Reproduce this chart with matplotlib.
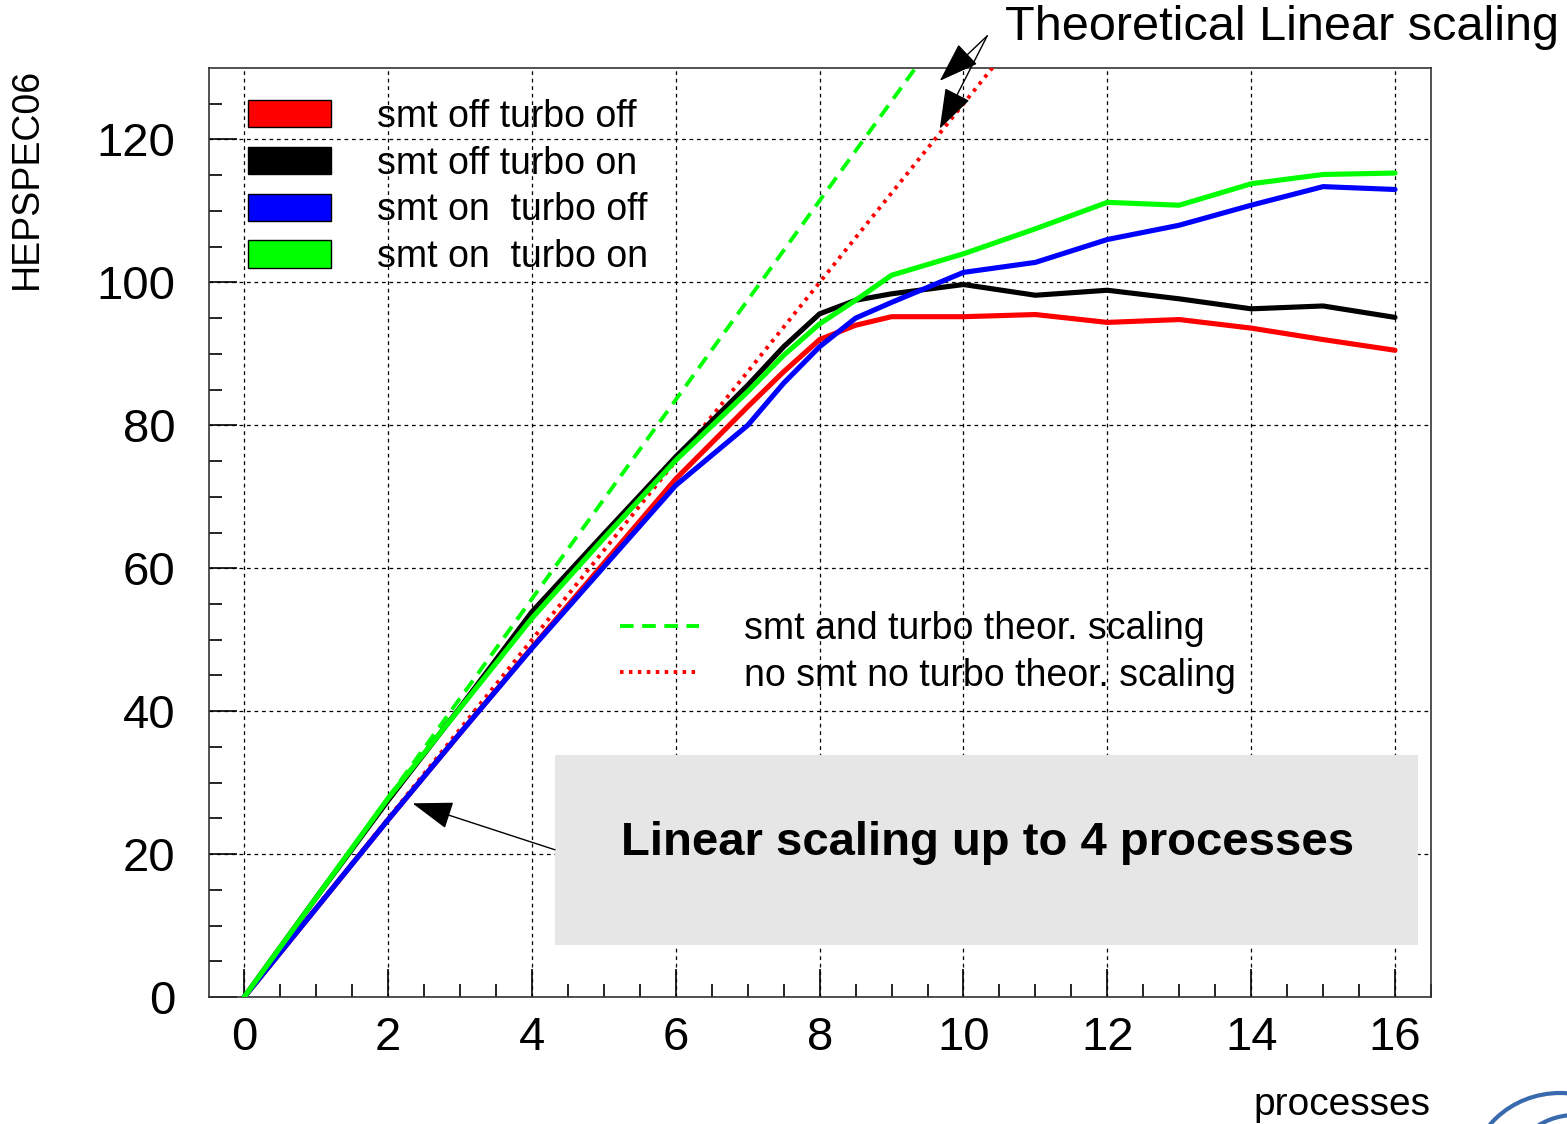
import matplotlib
matplotlib.use("Agg")
import matplotlib.pyplot as plt
import numpy as np
from matplotlib.patches import Patch, Rectangle, Arc
from matplotlib.lines import Line2D

plt.rcParams['font.family'] = ['Liberation Sans', 'DejaVu Sans']

# number of processes and measured HEPSPEC06 values
procs = [0, 1, 2, 3, 4, 5, 6, 7, 7.5, 8, 8.5, 9, 10, 11, 12, 13, 14, 15, 16]
smt_off_turbo_off = [0, 12.4, 24.8, 36.9, 48.9, 60.7, 72.5, 82.6, 87.5, 92.0, 94.0, 95.2, 95.2, 95.5, 94.4, 94.8, 93.6, 92.0, 90.5]
smt_off_turbo_on = [0, 13.9, 27.5, 40.5, 53.9, 64.8, 75.6, 85.6, 91.0, 95.6, 97.5, 98.4, 99.7, 98.2, 98.9, 97.7, 96.3, 96.7, 95.1]
smt_on_turbo_off = [0, 12.4, 24.8, 36.9, 48.8, 60.2, 71.6, 80.0, 85.9, 91.0, 95.0, 97.2, 101.4, 102.8, 106.0, 108.0, 110.8, 113.4, 113.0]
smt_on_turbo_on = [0, 13.9, 27.8, 40.4, 53.0, 64.2, 75.1, 84.7, 89.8, 94.2, 97.5, 101.0, 104.0, 107.5, 111.2, 110.8, 113.8, 115.1, 115.3]

# theoretical linear scaling (single process value x n)
theo_x = [0, 10.5]
theo_smt_turbo = [0, 10.5 * 13.93]
theo_no_smt_no_turbo = [0, 10.5 * 12.5]

series = [
    (smt_off_turbo_off, '#ff0000', 'smt off turbo off'),
    (smt_off_turbo_on, '#000000', 'smt off turbo on'),
    (smt_on_turbo_off, '#0000ff', 'smt on  turbo off'),
    (smt_on_turbo_on, '#00ff00', 'smt on  turbo on'),
]

fig = plt.figure(figsize=(15.67, 11.24), dpi=100)
ax = fig.add_axes([209 / 1567, 1 - 997 / 1124, 1222 / 1567, 929 / 1124])

for vals, col, lab in series:
    ax.plot(procs, vals, color=col, lw=3.7, solid_capstyle='round',
            solid_joinstyle='round', zorder=4)

ax.plot(theo_x, theo_smt_turbo, color='#00ff00', lw=2.8, dashes=(3.5, 2.2), zorder=3)
ax.plot(theo_x, theo_no_smt_no_turbo, color='#ff0000', lw=2.8, dashes=(0.9, 1.4), zorder=3)

ax.set_xlim(-0.49, 16.5)
ax.set_ylim(0, 130)
ax.set_xticks(np.arange(0, 17, 2))
ax.set_xticks(np.arange(0, 16.6, 0.5), minor=True)
ax.set_yticks(np.arange(0, 121, 20))
ax.set_yticks(np.arange(0, 130, 5), minor=True)
ax.tick_params(which='major', direction='in', length=20, width=1.2, labelsize=34,
               top=False, right=False)
ax.tick_params(which='minor', direction='in', length=9.5, width=1.2, top=False, right=False)
ax.tick_params(axis='y', which='major', pad=24)
ax.tick_params(axis='x', which='major', pad=14)
ax.grid(True, which='major', color='black', ls=(0, (3, 3)), lw=0.9, zorder=0)
for sp in ax.spines.values():
    sp.set_linewidth(1.2)
    sp.set_color('#333333')

# legends
h1 = [Patch(facecolor=c, edgecolor='black', lw=1) for _, c, _ in series]
leg1 = ax.legend(h1, [l for _, _, l in series], loc='upper left',
                 bbox_to_anchor=(0.032, 0.967), frameon=False, fontsize=27,
                 handlelength=2.2, handleheight=0.75, handletextpad=1.25,
                 labelspacing=0.29, borderpad=0, borderaxespad=0)
ax.add_artist(leg1)
h2 = [Line2D([], [], color='#00ff00', lw=2.8, dashes=(3.5, 2.2)),
      Line2D([], [], color='#ff0000', lw=2.8, dashes=(0.9, 1.4))]
ax.legend(h2, ['smt and turbo theor. scaling', 'no smt no turbo theor. scaling'],
          loc='upper left', bbox_to_anchor=(0.336, 0.415), frameon=False, fontsize=27,
          handlelength=2.13, handletextpad=1.2, labelspacing=0.27,
          borderpad=0, borderaxespad=0)

# grey comment box
ax.add_patch(Rectangle((0.283, 0.056), 0.706, 0.2045, transform=ax.transAxes,
                       facecolor='#e6e6e6', edgecolor='none', zorder=2))
ax.text(0.6375, 0.166, 'Linear scaling up to 4 processes', transform=ax.transAxes,
        ha='center', va='center', fontsize=34, fontweight='bold', zorder=5)
arrow_style = dict(arrowstyle='-|>,head_length=1.6,head_width=0.55',
                   mutation_scale=16, color='black', lw=1, shrinkA=0, shrinkB=0)
ax.annotate('', xy=(2.34, 27.1), xytext=(4.32, 20.6), arrowprops=arrow_style, zorder=5)

# theoretical scaling annotation
fig.text(1005 / 1567, 1 - 27 / 1124, 'Theoretical Linear scaling', fontsize=35,
         ha='left', va='center')
for tip in [(9.67, 128.2), (9.67, 121.5)]:
    ax.annotate('', xy=tip, xytext=(10.33, 134.5), annotation_clip=False,
                arrowprops=arrow_style)

# axis titles
fig.text(27 / 1567, 1 - 68 / 1124, 'HEPSPEC06', rotation=90, fontsize=27,
         ha='center', va='top')
fig.text(1430 / 1567, 1 - 1105 / 1124, 'processes', fontsize=28,
         ha='right', va='center')

# logo fragment in the corner
for w, h, c in [(180, 170, (1560, 1178)), (130, 120, (1575, 1175))]:
    fig.add_artist(Arc((c[0] / 1567, 1 - c[1] / 1124), w / 1567, h / 1124,
                       theta1=0, theta2=180, color='#3a6aae', lw=3,
                       transform=fig.transFigure))

fig.savefig('out.png', dpi=100)
